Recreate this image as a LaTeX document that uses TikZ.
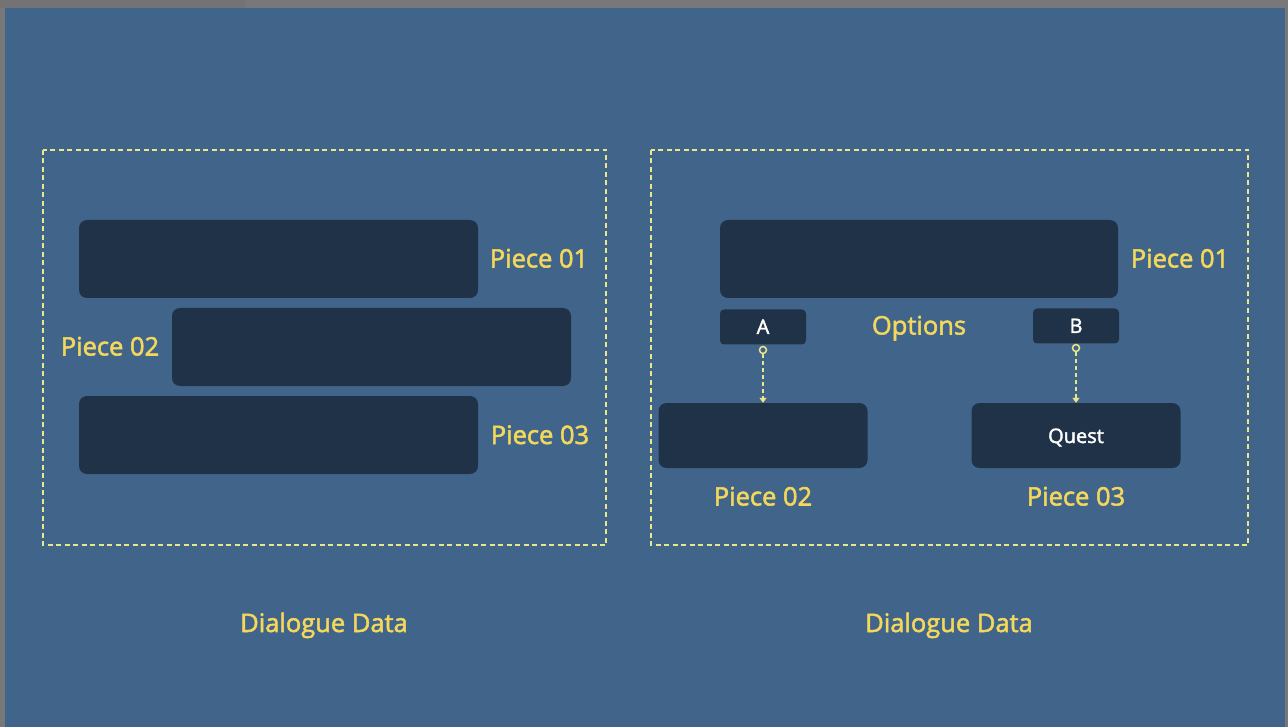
\documentclass[tikz,border=0pt]{standalone}
\usepackage{fontspec}
\setmainfont{Open Sans}
\newfontfamily\medfont{Open Sans}[FakeBold=2]
\usetikzlibrary{arrows.meta}
\definecolor{frame}{HTML}{787878}
\definecolor{bg}{HTML}{41658A}
\definecolor{dark}{HTML}{203248}
\definecolor{ylw}{HTML}{F3D85C}
\definecolor{dashyel}{HTML}{EDE58A}
\begin{document}
\begin{tikzpicture}[x=1pt,y=-1pt,
  darkbox/.style={fill=dark,rounded corners=8pt},
  ylab/.style={text=ylw,font=\medfont\fontsize{25.5}{30}\selectfont,inner sep=0pt,anchor=base},
  wlab/.style={text=white,font=\medfont\fontsize{20}{24}\selectfont,inner sep=0pt,anchor=base},
  groupbox/.style={draw=dashyel,line width=1.6pt,dash pattern=on 5pt off 3.5pt},
  link/.style={draw=dashyel,line width=1.8pt,dash pattern=on 4pt off 3pt}]
\useasboundingbox (0,0) rectangle (1288,727);
\fill[frame] (0,0) rectangle (1288,727);
\fill[frame!96!black] (0,0) rectangle (245,8);
\fill[bg] (5,8) rectangle (1285,727);
% left group
\draw[groupbox] (43,150) rectangle (606,545);
\fill[darkbox] (79,220) rectangle (478,298);
\fill[darkbox] (172,308) rectangle (571,386);
\fill[darkbox] (79,396) rectangle (478,474);
\node[ylab] (l1) at (539,267.5) {Piece 01};
\node[ylab] (l2) at (110,355.5) {Piece 02};
\node[ylab] (l3) at (540,444) {Piece 03};
\node[ylab] (ld) at (324,632) {Dialogue Data};
% right group
\draw[groupbox] (651,150) rectangle (1248,545);
\fill[darkbox] (720,220) rectangle (1118,298);
\node[ylab] (r1) at (1180,267.5) {Piece 01};
\node[darkbox,rounded corners=4pt,minimum width=86pt,minimum height=35pt,inner sep=0pt] (a) at (763,327) {};
\node[wlab] (at) at (763,334) {A};
\node[darkbox,rounded corners=4pt,minimum width=86pt,minimum height=35pt,inner sep=0pt] (b) at (1076,326) {};
\node[wlab] (bt) at (1076,333) {B};
\node[ylab] (opt) at (919,334.5) {Options};
\node[darkbox,rounded corners=8pt,minimum width=209pt,minimum height=65pt,inner sep=0pt] (p2) at (763,435.5) {};
\node[darkbox,rounded corners=8pt,minimum width=209pt,minimum height=65pt,inner sep=0pt] (p3) at (1076,435.5) {};
\node[wlab] (q) at (1076,443) {Quest};
\node[ylab] (r2) at (763,505.5) {Piece 02};
\node[ylab] (r3) at (1076,505.5) {Piece 03};
\node[ylab] (rd) at (949,632) {Dialogue Data};
\coordinate (ca) at (763,350);
\coordinate (cb) at (1076,348);
\draw[link,-{Triangle[length=5pt,width=7pt]}] ([yshift=-4pt]ca) -- (p2.north);
\draw[link,-{Triangle[length=5pt,width=7pt]}] ([yshift=-4pt]cb) -- (p3.north);
\draw[dashyel,line width=1.5pt,fill=bg] (ca) circle (3.5pt);
\draw[dashyel,line width=1.5pt,fill=bg] (cb) circle (3.5pt);
\end{tikzpicture}
\end{document}
